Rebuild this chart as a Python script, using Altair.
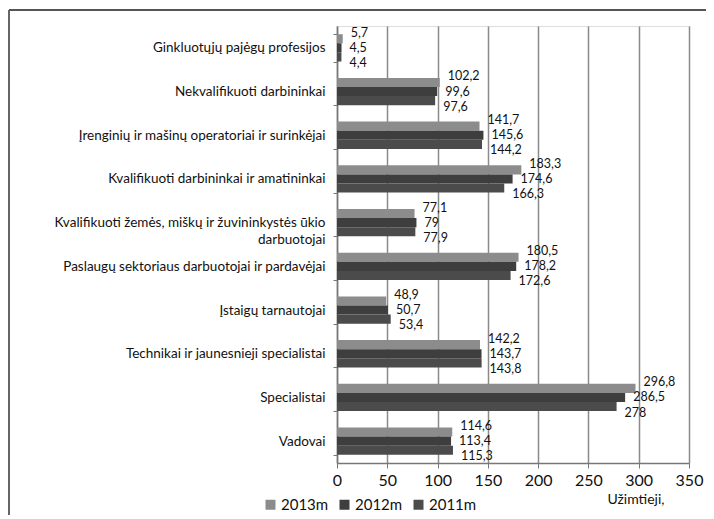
import altair as alt
import pandas as pd

categories = [
    "Ginkluotųjų pajėgų profesijos",
    "Nekvalifikuoti darbininkai",
    "Įrenginių ir mašinų operatoriai ir surinkėjai",
    "Kvalifikuoti darbininkai ir amatininkai",
    "Kvalifikuoti žemės, miškų ir žuvininkystės ūkio darbuotojai",
    "Paslaugų sektoriaus darbuotojai ir pardavėjai",
    "Įstaigų tarnautojai",
    "Technikai ir jaunesnieji specialistai",
    "Specialistai",
    "Vadovai",
]
series = ["2013m", "2012m", "2011m"]
v2013 = [5.7, 102.2, 141.7, 183.3, 77.1, 180.5, 48.9, 142.2, 296.8, 114.6]
v2012 = [4.5, 99.6, 145.6, 174.6, 79.0, 178.2, 50.7, 143.7, 286.5, 113.4]
v2011 = [4.4, 97.6, 144.2, 166.3, 77.9, 172.6, 53.4, 143.8, 278.0, 115.3]
colors = ["#8c8c8c", "#3e3e3e", "#4b4b4b"]
x_ticks = [0, 50, 100, 150, 200, 250, 300, 350]

rows = []
for s, vals in zip(series, [v2013, v2012, v2011]):
    for c, v in zip(categories, vals):
        rows.append({"cat": c, "year": s, "value": v,
                     "label": f"{v:g}".replace(".", ",")})
df = pd.DataFrame(rows)

FONT = "Lato"
wrap_expr = ("datum.label == 'Kvalifikuoti žemės, miškų ir žuvininkystės ūkio darbuotojai'"
             " ? ['Kvalifikuoti žemės, miškų ir žuvininkystės ūkio', 'darbuotojai'] : datum.label")

y_enc = alt.Y("cat:N", sort=categories, title=None,
              scale=alt.Scale(paddingInner=0.375, paddingOuter=0.1875),
              axis=alt.Axis(labelExpr=wrap_expr, labelFont=FONT, labelFontSize=13.5,
                            labelColor="#111", labelPadding=8, tickBand="extent",
                            tickSize=4, tickColor="#777", domainColor="#777",
                            domainWidth=1.5, labelLimit=320, grid=False,
                            labelLineHeight=17))
yoff = alt.YOffset("year:N", sort=series, scale=alt.Scale(domain=series, paddingInner=0))

x_enc = alt.X("value:Q", scale=alt.Scale(domain=[0, 350], nice=False),
              axis=alt.Axis(values=x_ticks, title="Užimtieji,", titleFont=FONT,
                            titleFontSize=14, titleFontWeight="normal", titleColor="#111",
                            titleAnchor="end", titleAlign="right", titleBaseline="top",
                            titleX=327, titleY=29,
                            labelFont=FONT, labelFontSize=16, labelColor="#111",
                            labelPadding=4, tickSize=5, tickColor="#777",
                            labelFlush=False, labelOverlap=False,
                            domainColor="#777", domainWidth=1.5,
                            grid=True, gridColor="#8a8a8a", gridWidth=1.5))

bars = alt.Chart(df).mark_bar().encode(
    y=y_enc,
    yOffset=yoff,
    x=x_enc,
    color=alt.Color("year:N", sort=series,
                    scale=alt.Scale(domain=series, range=colors),
                    legend=alt.Legend(title=None, orient="none", legendX=-74, legendY=471,
                                      direction="horizontal", columns=3,
                                      symbolType="square", symbolSize=100,
                                      symbolStrokeWidth=0, symbolOpacity=1,
                                      labelFont=FONT, labelFontSize=15, labelColor="#111",
                                      columnPadding=8, labelOffset=3)),
)

text_layers = []
for s, d in zip(series, [-6, 0, 6]):
    text_layers.append(
        alt.Chart(df).transform_filter(alt.datum.year == s).mark_text(
            align="left", baseline="middle", dx=8, dy=d,
            font=FONT, fontSize=12.5, color="#111").encode(
            y=alt.Y("cat:N", sort=categories),
            yOffset=alt.YOffset("year:N", sort=series),
            x="value:Q",
            text="label:N",
        )
    )

frame_left = alt.Chart(df).mark_rule(color="#666", strokeWidth=2).encode(
    x=alt.value(-328), y=alt.value(-16), y2=alt.value(490))
frame_top = alt.Chart(df).mark_rule(color="#555", strokeWidth=2).encode(
    x=alt.value(-328), x2=alt.value(380), y=alt.value(-16))

chart = alt.layer(bars, *text_layers, frame_left, frame_top).properties(
    width=352, height=437,
    autosize=alt.AutoSizeParams(type="none"),
    padding={"left": 329, "top": 18, "right": 17, "bottom": 52},
).configure_view(stroke=None).configure(background="white")

chart.save("out.html", embed_options={"renderer": "svg", "actions": False})
